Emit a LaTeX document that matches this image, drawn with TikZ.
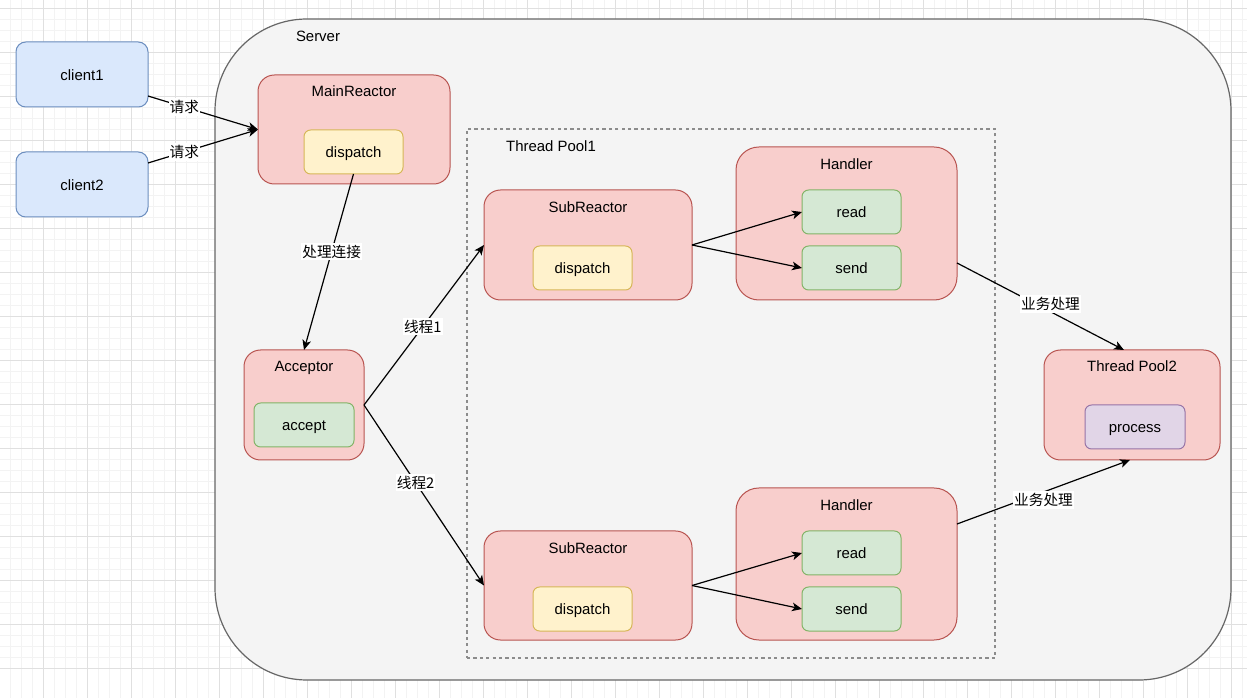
\documentclass[tikz,border=0pt]{standalone}
\usepackage{fontspec}
\setmainfont{Liberation Sans}
\newfontfamily\cjk{Noto Sans CJK SC}
\usetikzlibrary{arrows.meta,calc}
\definecolor{gridminor}{HTML}{F3F3F3}
\definecolor{gridmajor}{HTML}{E0E0E0}
\definecolor{srvfill}{HTML}{F4F4F4}
\definecolor{srvline}{HTML}{666666}
\definecolor{bluefill}{HTML}{DAE8FC}
\definecolor{blueline}{HTML}{6C8EBF}
\definecolor{redfill}{HTML}{F8CECC}
\definecolor{redline}{HTML}{B85450}
\definecolor{yelfill}{HTML}{FFF2CC}
\definecolor{yelline}{HTML}{D6B656}
\definecolor{grnfill}{HTML}{D5E8D4}
\definecolor{grnline}{HTML}{82B366}
\definecolor{purfill}{HTML}{E1D5E7}
\definecolor{purline}{HTML}{9673A6}
\definecolor{dashline}{HTML}{8C8C8C}
\newcommand\mybox[7]{%
  \pgfmathsetmacro\bw{(#5-#3)*0.75}%
  \pgfmathsetmacro\bh{(#6-#4)*0.75}%
  \pgfmathsetmacro\br{0.15*min(#5-#3,#6-#4)*0.75}%
  \node[#2, minimum width=\bw pt, minimum height=\bh pt, rounded corners=\br pt] (#1) at ({(#3+#5)/2},{(#4+#6)/2}) {#7};%
}
\begin{document}
\begin{tikzpicture}[x=0.75pt,y=-0.75pt,
  font=\fontsize{11.2}{13.4}\selectfont,
  every node/.style={text height=1.0em, text depth=0.16em, inner sep=0pt, outer sep=0pt},
  shapebox/.style={draw, line width=0.75pt},
  srv/.style={shapebox, fill=srvfill, draw=srvline, line width=0.9pt},
  blue/.style={shapebox, fill=bluefill, draw=blueline},
  red/.style={shapebox, fill=redfill, draw=redline},
  yel/.style={shapebox, fill=yelfill, draw=yelline},
  grn/.style={shapebox, fill=grnfill, draw=grnline},
  pur/.style={shapebox, fill=purfill, draw=purline},
  pool/.style={draw=dashline, line width=0.8pt, dash pattern=on 2.4pt off 2.4pt},
  ttl/.style={},
  arr/.style={line width=0.9pt, -{Stealth[length=7.5pt,width=6.5pt,inset=2pt]}},
  lbl/.style={fill=white, inner sep=0.8pt, font=\cjk\fontsize{11}{13}\selectfont}
]
\useasboundingbox (0,0) rectangle (1247,698);
\fill[white] (0,0) rectangle (1247,698);
% grid
\foreach \i in {0,...,114} {\draw[gridminor, line width=0.6pt] ({-0.5+11*\i},0) -- ({-0.5+11*\i},698);}
\foreach \i in {0,...,64} {\draw[gridminor, line width=0.6pt] (0,{668-11*\i}) -- (1247,{668-11*\i});}
\foreach \i in {0,...,28} {\draw[gridmajor, line width=0.6pt] ({43.5+44*\i},0) -- ({43.5+44*\i},698);}
\foreach \i in {0,...,15} {\draw[gridmajor, line width=0.6pt] (0,{668-44*\i}) -- (1247,{668-44*\i});}

% server
\node[srv, minimum width=762pt, minimum height=495.75pt, rounded corners=69pt] (server) at (723,349.5) {};
\node[ttl] (serverlbl) at (318,36) {Server};

% clients
\mybox{c1}{blue}{16}{42}{148}{107}{client1}
\mybox{c2}{blue}{16}{152}{148}{217}{client2}

% main reactor
\mybox{mr}{red}{258}{75}{450}{184}{}
\node[ttl] (mrlbl) at ($(mr.north)+(0,16)$) {MainReactor};
\mybox{md}{yel}{304}{130}{403}{174}{dispatch}

% thread pool 1
\node[pool, minimum width=396pt, minimum height=396.75pt] (tp1) at (731,393.5) {};
\node[ttl] (tp1lbl) at (551,146) {Thread Pool1};

% sub reactor 1
\mybox{sr1}{red}{484}{190}{692}{300}{}
\node[ttl] (sr1lbl) at ($(sr1.north)+(0,17)$) {SubReactor};
\mybox{sd1}{yel}{533}{246}{632}{290}{dispatch}

% handler 1
\mybox{h1}{red}{736}{147}{957}{300}{}
\node[ttl] (h1lbl) at ($(h1.north)+(0,17)$) {Handler};
\mybox{r1}{grn}{802}{190}{901}{234}{read}
\mybox{s1}{grn}{802}{246}{901}{290}{send}

% acceptor
\mybox{acc}{red}{244}{350}{364}{460}{}
\node[ttl] (acclbl) at ($(acc.north)+(0,16)$) {Acceptor};
\mybox{ac}{grn}{254}{403}{354}{447}{accept}

% thread pool 2
\mybox{tp2}{red}{1044}{350}{1220}{460}{}
\node[ttl] (tp2lbl) at ($(tp2.north)+(0,16)$) {Thread Pool2};
\mybox{pr}{pur}{1085}{405}{1185}{449}{process}

% sub reactor 2
\mybox{sr2}{red}{484}{531}{692}{640}{}
\node[ttl] (sr2lbl) at ($(sr2.north)+(0,17)$) {SubReactor};
\mybox{sd2}{yel}{533}{587}{632}{631}{dispatch}

% handler 2
\mybox{h2}{red}{736}{488}{957}{640}{}
\node[ttl] (h2lbl) at ($(h2.north)+(0,17)$) {Handler};
\mybox{r2}{grn}{802}{531}{901}{575}{read}
\mybox{s2}{grn}{802}{587}{901}{631}{send}

% connectors
\draw[arr] ($(c1.east)+(0,21.5)$) -- node[lbl, pos=0.33] (l1) {请求} (mr.west);
\draw[arr] ($(c2.east)+(0,-21.5)$) -- node[lbl, pos=0.33] (l2) {请求} (mr.west);
\draw[arr] (md.south) -- node[lbl, pos=0.44] (l3) {处理连接} (acc.north);
\draw[arr] (acc.east) -- node[lbl, pos=0.49] (l4) {线程1} (sr1.west);
\draw[arr] (acc.east) -- node[lbl, pos=0.43] (l5) {线程2} (sr2.west);
\draw[arr] (sr1.east) -- (r1.west);
\draw[arr] (sr1.east) -- (s1.west);
\draw[arr] (sr2.east) -- (r2.west);
\draw[arr] (sr2.east) -- (s2.west);
\draw[arr] ($(h1.east)+(0,39.5)$) -- node[lbl, pos=0.56, yshift=6pt] (l6) {业务处理} ($(tp2.north)+(-8,0)$);
\draw[arr] ($(h2.east)+(0,-40)$) -- node[lbl, pos=0.5, yshift=-6pt] (l7) {业务处理} ($(tp2.south)+(-2,0)$);
\end{tikzpicture}
\end{document}
